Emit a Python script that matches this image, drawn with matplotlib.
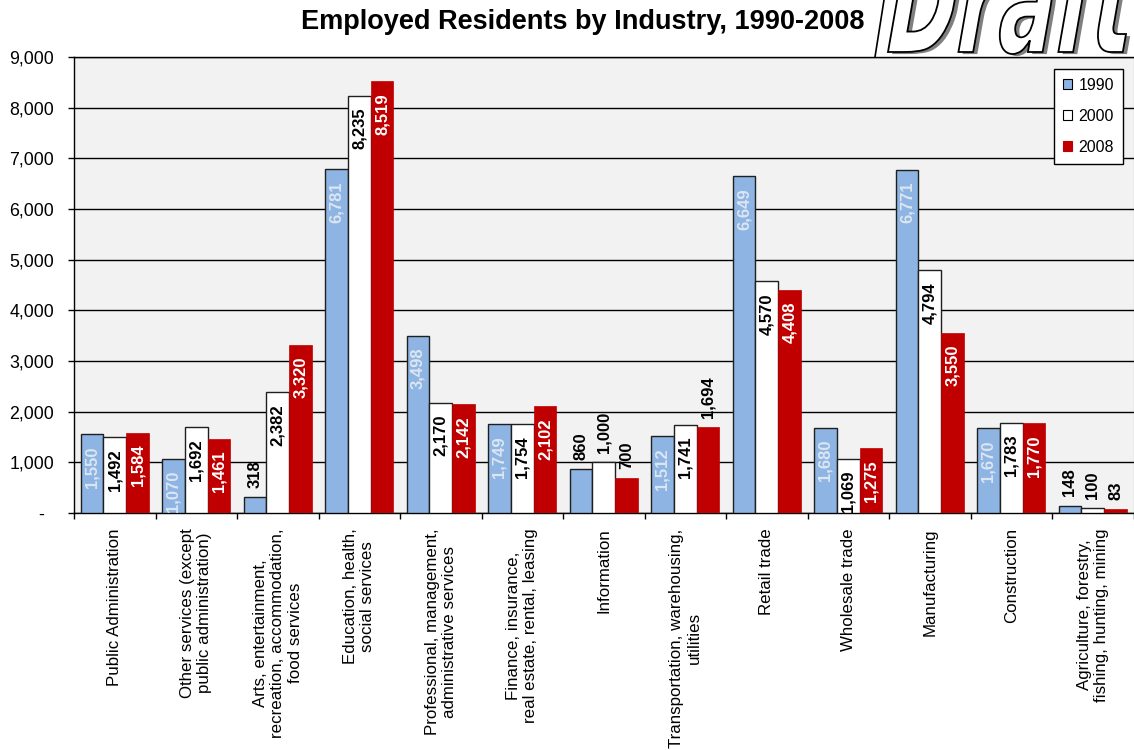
import matplotlib
matplotlib.use("Agg")
import matplotlib.pyplot as plt
import numpy as np
from matplotlib.patches import Patch, PathPatch
from matplotlib.lines import Line2D
from matplotlib.textpath import TextPath
from matplotlib.font_manager import FontProperties
from matplotlib.transforms import Affine2D
from matplotlib.ticker import FuncFormatter, MultipleLocator
import matplotlib.patheffects as pe

plt.rcParams['font.family'] = ['Liberation Sans', 'DejaVu Sans']

industries = [
    "Public Administration",
    "Other services (except\npublic administration)",
    "Arts, entertainment,\nrecreation, accommodation,\nfood services",
    "Education, health,\nsocial services",
    "Professional, management,\nadministrative services",
    "Finance, insurance,\nreal estate, rental, leasing",
    "Information",
    "Transportation, warehousing,\nutilities",
    "Retail trade",
    "Wholesale trade",
    "Manufacturing",
    "Construction",
    "Agriculture, forestry,\nfishing, hunting, mining",
]
years = ["1990", "2000", "2008"]
emp_1990 = [1550, 1070, 318, 6781, 3498, 1749, 860, 1512, 6649, 1680, 6771, 1670, 148]
emp_2000 = [1492, 1692, 2382, 8235, 2170, 1754, 1000, 1741, 4570, 1069, 4794, 1783, 100]
emp_2008 = [1584, 1461, 3320, 8519, 2142, 2102, 700, 1694, 4408, 1275, 3550, 1770, 83]

W, H = 1134, 750
fig = plt.figure(figsize=(W / 100, H / 100), dpi=100)
px = Affine2D().scale(1 / W, 1 / H) + fig.transFigure

# "Draft" stamp behind the plot area
fp = FontProperties(family='DejaVu Sans', weight='bold', style='italic')
tp = TextPath((0, 0), "Draft", size=100, prop=fp)
bb = tp.get_extents()
sx = 245 / bb.width
sy = 105 / 73.0
stamp_tr = (Affine2D().translate(-bb.x0, 0).skew_deg(6, 0).scale(sx, sy)
            .translate(888, H - 52)) + px
stamp = PathPatch(tp, transform=stamp_tr, facecolor='white', edgecolor='black',
                  lw=1.3, zorder=-5)
stamp.set_path_effects([pe.SimplePatchShadow(offset=(3, -1.5), shadow_rgbFace='#808080', alpha=1),
                        pe.Normal()])
fig.add_artist(stamp)
fig.add_artist(Line2D([875, 884], [H - 57, H], transform=px, color='black', lw=1.2, zorder=-4))

ax = fig.add_axes([74 / W, 1 - 513 / H, (1133.5 - 74) / W, (513 - 57) / H])
ax.set_facecolor('#f2f2f2')
ax.set_zorder(1)

x = np.arange(len(industries))
w = 0.28
series = [
    (emp_1990, -w, dict(color='#8db4e2', edgecolor='#1f1f1f', lw=1.0), '#dce6f2'),
    (emp_2000, 0.0, dict(color='white', edgecolor='#1f1f1f', lw=1.0), 'black'),
    (emp_2008, w, dict(color='#c00000', edgecolor='#c00000', lw=0.5), 'white'),
]
for vals, off, style, _ in series:
    ax.bar(x + off, vals, w, zorder=3, **style)

# labels that sit above their bars instead of inside
outside = {(2, 0), (6, 0), (6, 1), (6, 2), (7, 2), (12, 0), (12, 1), (12, 2)}
for s, (vals, off, _, inner_color) in enumerate(series):
    for i, v in enumerate(vals):
        txt = f"{v:,}"
        if (i, s) in outside:
            ax.annotate(txt, (x[i] + off, v), xytext=(0, 6.5), textcoords='offset points',
                        rotation=90, ha='center', va='bottom', color='black',
                        fontsize=12, fontweight='bold', zorder=5)
        else:
            ax.annotate(txt, (x[i] + off, v), xytext=(0, -8.5), textcoords='offset points',
                        rotation=90, ha='center', va='top', color=inner_color,
                        fontsize=12, fontweight='bold', zorder=5)

ax.set_xlim(-0.5, len(industries) - 0.5)
ax.set_ylim(0, 9000)
ax.yaxis.set_major_locator(MultipleLocator(1000))
ax.yaxis.set_major_formatter(FuncFormatter(lambda v, p: "-  " if v == 0 else f"{v:,.0f}"))
ax.yaxis.grid(True, color='black', lw=1.0)
ax.set_axisbelow(True)
ax.tick_params(axis='y', length=4.3, width=1, pad=10, labelsize=12.8, colors='black')

ax.set_xticks(x)
ax.set_xticklabels(industries)
ax.set_xticks(np.arange(-0.5, len(industries)), minor=True)
ax.tick_params(axis='x', which='major', length=0, pad=11, labelsize=12.2)
ax.tick_params(axis='x', which='minor', length=4.3, width=1)
for lab in ax.get_xticklabels():
    lab.set_rotation(90)
    lab.set_ha('center')
    lab.set_va('top')
    lab.set_multialignment('center')

for side in ('left', 'bottom', 'top'):
    ax.spines[side].set_color('black')
    ax.spines[side].set_linewidth(1.0)
ax.spines['right'].set_color('#808080')

handles = [Patch(facecolor='#8db4e2', edgecolor='black', lw=0.8),
           Patch(facecolor='white', edgecolor='black', lw=0.8),
           Patch(facecolor='#c00000', edgecolor='#c00000', lw=0.8)]
leg = ax.legend(handles, years, loc='upper right', bbox_to_anchor=(1123 / W, 1 - 69 / H),
                bbox_transform=fig.transFigure, fancybox=False, framealpha=1,
                edgecolor='black', fontsize=11.5, handlelength=0.6, handleheight=0.6,
                handletextpad=0.4, labelspacing=1.0, borderpad=0.55, borderaxespad=0)
leg.get_frame().set_linewidth(1.0)
leg.set_zorder(10)

fig.text(583 / W, 1 - 22 / H, "Employed Residents by Industry, 1990-2008",
         ha='center', va='center', fontsize=19.5, fontweight='bold')

fig.savefig("out.png", dpi=100)
